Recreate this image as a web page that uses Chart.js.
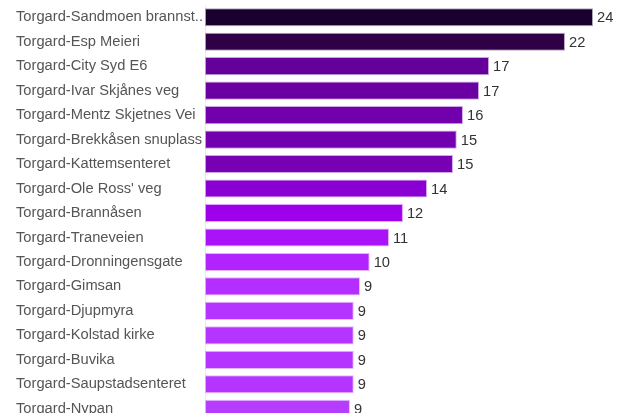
<!DOCTYPE html>
<html>
<head>
<meta charset="utf-8">
<script src="https://cdn.jsdelivr.net/npm/chart.js@4.4.0/dist/chart.umd.min.js"></script>
<style>
html,body{margin:0;padding:0;background:#fff;overflow:hidden;}
#wrap{position:relative;width:625px;height:422px;}
</style>
</head>
<body>
<div id="wrap"><canvas id="c"></canvas></div>
<script>
const categories = [
  "Torgard-Sandmoen brannst..",
  "Torgard-Esp Meieri",
  "Torgard-City Syd E6",
  "Torgard-Ivar Skjånes veg",
  "Torgard-Mentz Skjetnes Vei",
  "Torgard-Brekkåsen snuplass",
  "Torgard-Kattemsenteret",
  "Torgard-Ole Ross' veg",
  "Torgard-Brannåsen",
  "Torgard-Traneveien",
  "Torgard-Dronningensgate",
  "Torgard-Gimsan",
  "Torgard-Djupmyra",
  "Torgard-Kolstad kirke",
  "Torgard-Buvika",
  "Torgard-Saupstadsenteret",
  "Torgard-Nypan"
];
const values = [23.66, 21.95, 17.32, 16.71, 15.73, 15.35, 15.12, 13.54, 12.07, 11.22, 10.04, 9.45, 9.07, 9.07, 9.07, 9.07, 8.84];
const barColors = [
  "#1a002e", "#2f0046", "#65009a", "#6b00a2", "#7100ac", "#7300ae", "#7700b4",
  "#8a00d2", "#9e00ec", "#aa12f8", "#b224ff", "#b32eff", "#b634ff", "#b634ff",
  "#b634ff", "#b634ff", "#b63cff"
];

function withAlpha(hex, a) {
  const r = parseInt(hex.slice(1,3),16), g = parseInt(hex.slice(3,5),16), b = parseInt(hex.slice(5,7),16);
  return `rgba(${r},${g},${b},${a})`;
}

const FONT = '"Liberation Sans", Arial, sans-serif';

const valueLabels = {
  id: 'valueLabels',
  afterDatasetsDraw(chart) {
    const ctx = chart.ctx;
    const meta = chart.getDatasetMeta(0);
    ctx.save();
    ctx.font = '14.7px ' + FONT;
    ctx.fillStyle = '#333';
    ctx.textAlign = 'left';
    ctx.textBaseline = 'middle';
    meta.data.forEach((bar, i) => {
      ctx.fillText(String(Math.round(values[i])), bar.x + 4, bar.y + 1);
    });
    ctx.restore();
  }
};

new Chart(document.getElementById('c'), {
  type: 'bar',
  data: {
    labels: categories,
    datasets: [{
      data: values,
      backgroundColor: barColors,
      borderColor: barColors.map(c => withAlpha(c, 0.35)),
      borderWidth: 1,
      borderSkipped: false,
      barPercentage: 0.74,
      categoryPercentage: 1
    }]
  },
  options: {
    indexAxis: 'y',
    responsive: true,
    maintainAspectRatio: false,
    animation: false,
    layout: { padding: { left: 16, right: 10, top: 5, bottom: 1 } },
    plugins: { legend: { display: false }, tooltip: { enabled: false } },
    scales: {
      x: {
        min: 0, max: 25,
        display: false,
        grid: { display: false }
      },
      y: {
        afterFit(scale) { scale.width = 189; scale.paddingTop = 0; scale.paddingBottom = 0; },
        grid: { display: false, drawTicks: false },
        border: { display: true, color: '#ececec' },
        ticks: {
          crossAlign: 'far',
          padding: 2,
          color: '#555',
          font: { family: FONT, size: 14.7 }
        }
      }
    }
  },
  plugins: [valueLabels]
});
</script>
</body>
</html>
